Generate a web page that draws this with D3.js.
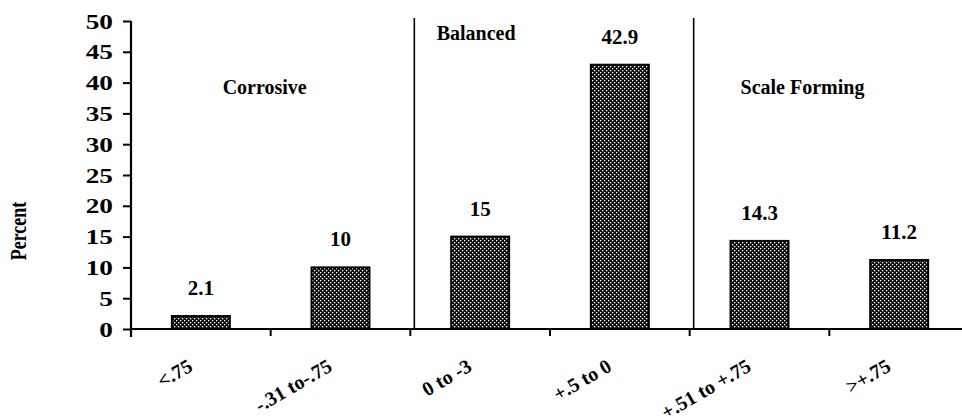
<!DOCTYPE html>
<html>
<head>
<meta charset="utf-8">
<script src="https://cdn.jsdelivr.net/npm/d3@7/dist/d3.min.js"></script>
<style>
  html, body { margin: 0; padding: 0; background: #fff; }
  svg { display: block; }
  text { font-family: "Liberation Serif", "Times New Roman", serif; font-weight: bold; fill: #000; }
</style>
</head>
<body>
<svg id="chart" width="962" height="418"></svg>
<script>
// Saturation index classes and share of samples in each
const categories = ["<.75", "-.31 to-.75", "0 to -3", "+.5 to 0", "+.51 to +.75", ">+.75"];
const percents = [2.1, 10, 15, 42.9, 14.3, 11.2];
const valueLabels = ["2.1", "10", "15", "42.9", "14.3", "11.2"];
const yTicks = [0, 5, 10, 15, 20, 25, 30, 35, 40, 45, 50];
const zoneNames = ["Corrosive", "Balanced", "Scale Forming"];
const zoneStarts = ["<.75", "0 to -3", "+.51 to +.75"]; // first class in each zone

(function () {
  const svg = d3.select("#chart");
  const W = 962;
  const plotLeft = 131, plotRight = 969, plotTop = 21, plotBottom = 329;

  // Dotted fill used for the bars
  const defs = svg.append("defs");
  const pat = defs.append("pattern")
    .attr("id", "dots").attr("patternUnits", "userSpaceOnUse")
    .attr("width", 4).attr("height", 4);
  pat.append("rect").attr("width", 4).attr("height", 4).attr("fill", "#0d0d0d");
  pat.append("rect").attr("x", 0).attr("y", 0).attr("width", 1.3).attr("height", 1.3).attr("fill", "#fff");
  pat.append("rect").attr("x", 2).attr("y", 2).attr("width", 1.3).attr("height", 1.3).attr("fill", "#fff");

  const x = d3.scaleBand().domain(categories).range([plotLeft, plotRight])
    .paddingInner(0.585).paddingOuter(0.2925);
  const y = d3.scaleLinear().domain([0, 50]).range([plotBottom, plotTop]);
  const step = x.step();
  const gap = step - x.bandwidth();
  const boundary = c => x(c) - gap / 2;

  // Y axis
  const yAxis = svg.append("g").attr("transform", `translate(${plotLeft},0)`)
    .call(d3.axisLeft(y).tickValues(yTicks).tickSize(8).tickPadding(10).tickSizeOuter(0));
  yAxis.select(".domain").remove();
  yAxis.selectAll(".tick line").attr("stroke", "#000").attr("stroke-width", 2);
  const sx = 1.3;
  yAxis.selectAll(".tick text")
    .style("font-size", "21px")
    .attr("x", -18 / sx)
    .attr("dy", "0.34em")
    .attr("transform", `scale(${sx},1)`);
  svg.append("line").attr("x1", plotLeft).attr("x2", plotLeft)
    .attr("y1", plotTop).attr("y2", plotBottom + 8)
    .attr("stroke", "#000").attr("stroke-width", 2.2);

  // X axis baseline with ticks between classes
  svg.append("line").attr("x1", plotLeft).attr("x2", W).attr("y1", plotBottom).attr("y2", plotBottom)
    .attr("stroke", "#000").attr("stroke-width", 2.2);
  svg.selectAll(".xtick").data(categories.slice(1)).enter().append("line")
    .attr("class", "xtick")
    .attr("x1", d => boundary(d)).attr("x2", d => boundary(d))
    .attr("y1", plotBottom).attr("y2", plotBottom + 7)
    .attr("stroke", "#000").attr("stroke-width", 2);

  // Zone separators
  svg.selectAll(".sep").data(zoneStarts.slice(1)).enter().append("line")
    .attr("class", "sep")
    .attr("x1", d => boundary(d) + 4).attr("x2", d => boundary(d) + 4)
    .attr("y1", plotTop - 3).attr("y2", plotBottom)
    .attr("stroke", "#000").attr("stroke-width", 1.6);

  // Bars
  svg.selectAll(".bar").data(percents).enter().append("rect")
    .attr("class", "bar")
    .attr("x", (d, i) => x(categories[i]))
    .attr("y", d => y(d))
    .attr("width", x.bandwidth())
    .attr("height", d => plotBottom - y(d))
    .attr("fill", "url(#dots)")
    .attr("stroke", "#000").attr("stroke-width", 2);

  // Value labels
  svg.selectAll(".val").data(percents).enter().append("text")
    .attr("class", "val")
    .attr("x", (d, i) => x(categories[i]) + x.bandwidth() / 2)
    .attr("y", d => y(d) - 21)
    .attr("text-anchor", "middle")
    .style("font-size", "21px")
    .text((d, i) => valueLabels[i]);

  // Class labels, slanted
  svg.selectAll(".cat").data(categories).enter().append("text")
    .attr("class", "cat")
    .attr("text-anchor", "end")
    .attr("transform", d => `translate(${x(d) + x.bandwidth() / 2 - 7},${plotBottom + 41}) rotate(-30)`)
    .style("font-size", "20px")
    .text(d => d);

  // Zone titles
  const zonePlace = [
    { dx: x.bandwidth() / 2 + step / 2 - 6, v: 38.2 },
    { dx: x.bandwidth() / 2 - 4, v: 46.9 },
    { dx: x.bandwidth() / 2 + 43, v: 38.2 }
  ];
  svg.selectAll(".zone").data(zoneNames).enter().append("text")
    .attr("class", "zone")
    .attr("x", (d, i) => x(zoneStarts[i]) + zonePlace[i].dx)
    .attr("y", (d, i) => y(zonePlace[i].v))
    .attr("text-anchor", "middle")
    .style("font-size", "20px")
    .text(d => d);

  // Axis title
  svg.append("text")
    .attr("transform", "translate(26,231) rotate(-90) scale(1,1.3)")
    .attr("text-anchor", "middle")
    .style("font-size", "18px")
    .text("Percent");
})();
</script>
</body>
</html>
